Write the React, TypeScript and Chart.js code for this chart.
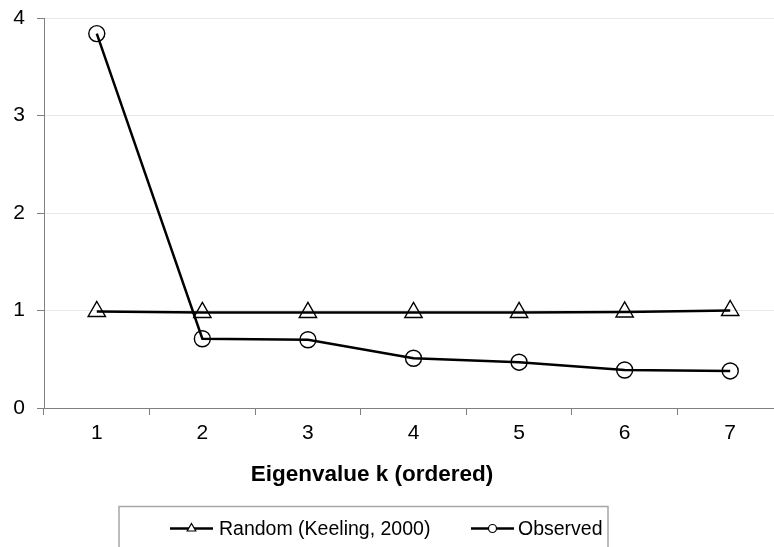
import React, { useEffect, useRef } from "react";
import { Chart, registerables } from "chart.js";

Chart.register(...registerables);

const categories = ["1", "2", "3", "4", "5", "6", "7"];
const randomValues = [0.99, 0.98, 0.98, 0.98, 0.98, 0.985, 1.0];
const observedValues = [3.84, 0.71, 0.7, 0.51, 0.47, 0.39, 0.38];
const seriesLabels = ["Random (Keeling, 2000)", "Observed"];
const axisTitle = "Eigenvalue k (ordered)";

const FONT = "'Liberation Sans', Arial, sans-serif";

const extrasPlugin = {
  id: "extras",
  afterDraw(chart: any) {
    const ctx = chart.ctx as CanvasRenderingContext2D;
    ctx.save();
    // axis title
    ctx.fillStyle = "#000";
    ctx.font = `bold 22.5px ${FONT}`;
    ctx.textAlign = "center";
    ctx.textBaseline = "alphabetic";
    ctx.fillText(axisTitle, 372, 481);

    // legend box
    ctx.strokeStyle = "#a6a6a6";
    ctx.lineWidth = 1.5;
    ctx.strokeRect(119, 506.5, 489, 70);

    const items = [
      { x0: 170, x1: 213, tx: 219, style: "triangle" },
      { x0: 471, x1: 514, tx: 518, style: "circle" },
    ];
    items.forEach((it, i) => {
      const ly = 528.5;
      ctx.strokeStyle = "#000";
      ctx.lineWidth = 2.5;
      ctx.beginPath();
      ctx.moveTo(it.x0, ly);
      ctx.lineTo(it.x1, ly);
      ctx.stroke();
      ctx.lineWidth = 1.2;
      const cx = (it.x0 + it.x1) / 2;
      ctx.beginPath();
      if (it.style === "triangle") {
        const r = 5;
        ctx.moveTo(cx, ly - r);
        ctx.lineTo(cx + r * 0.866, ly + r / 2);
        ctx.lineTo(cx - r * 0.866, ly + r / 2);
        ctx.closePath();
      } else {
        ctx.arc(cx, ly, 4, 0, Math.PI * 2);
      }
      ctx.fillStyle = "#fff";
      ctx.fill();
      ctx.stroke();
      ctx.fillStyle = "#000";
      ctx.font = `19.5px ${FONT}`;
      ctx.textAlign = "left";
      ctx.textBaseline = "alphabetic";
      ctx.fillText(chart.data.datasets[i].label, it.tx, 535);
    });
    ctx.restore();
  },
};

export default function App() {
  const canvasRef = useRef<HTMLCanvasElement | null>(null);

  useEffect(() => {
    if (!canvasRef.current) return;
    const chart = new Chart(canvasRef.current, {
      type: "line",
      data: {
        labels: categories,
        datasets: [
          {
            label: seriesLabels[0],
            data: randomValues,
            borderColor: "#000",
            borderWidth: 2.5,
            pointStyle: "triangle",
            pointRadius: 10,
            pointBorderWidth: 1.4,
            pointBorderColor: "#000",
            pointBackgroundColor: "rgba(0,0,0,0)",
            tension: 0,
          },
          {
            label: seriesLabels[1],
            data: observedValues,
            borderColor: "#000",
            borderWidth: 2.5,
            pointStyle: "circle",
            pointRadius: 8,
            pointBorderWidth: 1.4,
            pointBorderColor: "#000",
            pointBackgroundColor: "rgba(0,0,0,0)",
            tension: 0,
          },
        ],
      },
      options: {
        animation: false,
        responsive: false,
        devicePixelRatio: 1,
        layout: { padding: { left: 0, right: 17, top: 18, bottom: 0 } },
        plugins: {
          legend: { display: false },
          tooltip: { enabled: false },
          title: { display: false },
        },
        scales: {
          x: {
            type: "category",
            offset: true,
            afterFit: (s: any) => {
              s.height = 139;
              s.paddingLeft = 0;
              s.paddingRight = 0;
            },
            grid: {
              offset: true,
              drawOnChartArea: false,
              drawTicks: true,
              tickLength: 7,
              color: "#808080",
            },
            border: { color: "#808080", width: 1 },
            ticks: {
              color: "#000",
              font: { family: FONT, size: 21 },
              padding: 6,
              maxRotation: 0,
            },
          },
          y: {
            min: 0,
            max: 4,
            afterFit: (s: any) => {
              s.width = 44;
              s.paddingTop = 0;
              s.paddingBottom = 0;
            },
            grid: {
              color: "#e8e8e8",
              tickColor: "#808080",
              tickLength: 7,
            },
            border: { color: "#808080", width: 1 },
            ticks: {
              stepSize: 1,
              color: "#000",
              font: { family: FONT, size: 21 },
              padding: 12,
            },
          },
        },
      },
      plugins: [extrasPlugin],
    });
    return () => chart.destroy();
  }, []);

  return (
    <div
      style={{
        position: "absolute",
        left: 0,
        top: 0,
        width: 774,
        height: 547,
        overflow: "hidden",
        background: "#fff",
      }}
    >
      <canvas
        ref={canvasRef}
        width={800}
        height={547}
        style={{ width: 800, height: 547, display: "block" }}
      />
    </div>
  );
}
